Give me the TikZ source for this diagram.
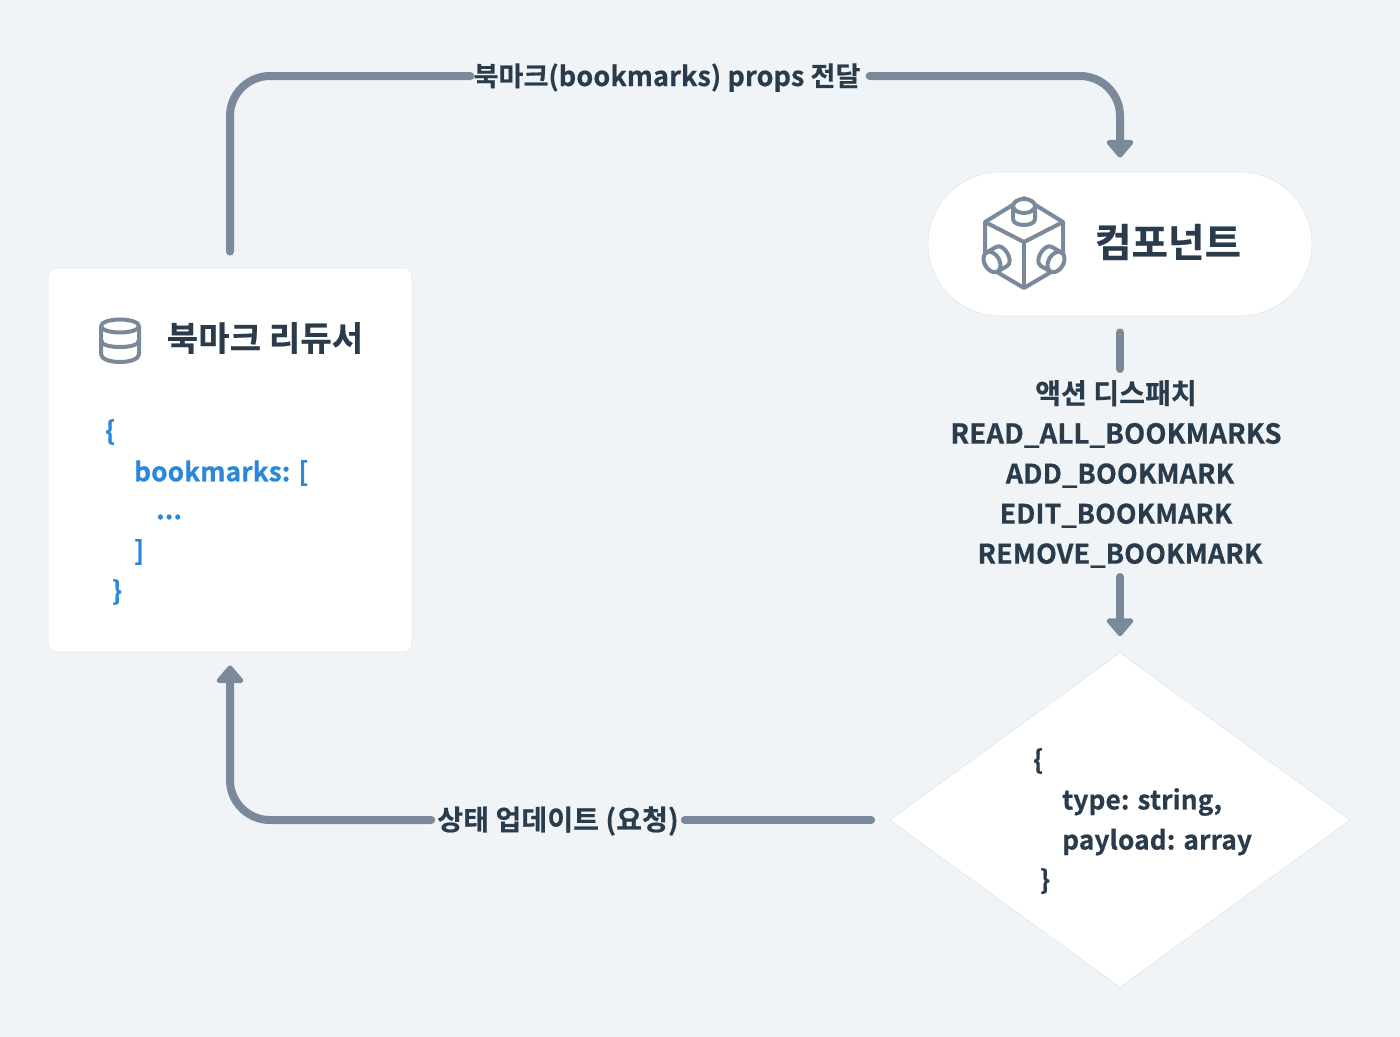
\documentclass[tikz,border=0pt]{standalone}
\usepackage{fontspec}
\setmainfont{Noto Sans CJK KR Bold}[BoldFont={Noto Sans CJK KR Bold},LetterSpace=0.5,FakeBold=0.6]
\usetikzlibrary{arrows.meta,shapes.geometric}
\definecolor{bgc}{HTML}{F0F4F7}
\definecolor{linec}{HTML}{7B8A9A}
\definecolor{textc}{HTML}{2A3B4B}
\definecolor{bluec}{HTML}{2B88D9}
\definecolor{edgec}{HTML}{E6EAEE}
\tikzset{
  flow/.style={draw=linec,line width=8pt,line cap=round,line join=round},
  tip/.style={-{Triangle[length=19pt,width=31pt,round]}},
  lbl/.style={text=textc,font=\fontsize{27}{40}\selectfont,inner sep=0pt},
  flowlbl/.style={lbl,text height=22pt,text depth=2pt},
  code/.style={lbl,anchor=west,font=\fontsize{26.2}{40}\selectfont},
  bluecode/.style={code,text=bluec},
  card/.style={fill=white,draw=edgec,line width=0.8pt},
  icon/.style={draw=linec,line width=4pt,line join=round}
}
\begin{document}
\begin{tikzpicture}[x=1pt,y=-1pt]
\useasboundingbox (0,0) rectangle (1400,1036);
\fill[bgc] (-3,-3) rectangle (1403,1039);
% shapes
\node[card,rounded corners=8pt,minimum width=364pt,minimum height=384pt,inner sep=0pt] (reducer) at (230,460) {};
\node[card,rounded corners=72pt,minimum width=384pt,minimum height=144pt,inner sep=0pt] (comp) at (1120,244) {};
\node[card,diamond,aspect=1.377,minimum width=461pt,minimum height=335pt,inner sep=0pt] (action) at (1120,820) {};
% titles
\node[lbl,font=\fontsize{34}{40}\selectfont,anchor=center] (reducertitle) at (265,338) {북마크 리듀서};
\node[lbl,font=\fontsize{39.5}{48}\selectfont,anchor=center] (comptitle) at (1168,242) {컴포넌트};
% labels
\node[flowlbl] (propslabel) at (667,76) {북마크(bookmarks) props 전달};
\node[flowlbl,font=\fontsize{28}{40}\selectfont] (updatelabel) at (558,820) {상태 업데이트 (요청)};
\node[lbl,align=center] (dispatch) at (1120,474) {{\fontsize{28}{40}\selectfont 액션 디스패치}\hbox to 8pt{}\\{\fontsize{27.5}{40}\selectfont READ\_ALL\_BOOKMARKS}\hbox to 8pt{}\\ADD\_BOOKMARK\\{\fontsize{26.8}{40}\selectfont EDIT\_BOOKMARK}\hbox to 8pt{}\\REMOVE\_BOOKMARK};
% code
\node[bluecode] (c1) at (105,432) {\{};
\node[bluecode] (c2) at (134,473) {bookmarks: [};
\node[bluecode] (c3) at (156,517) {...};
\node[bluecode] (c4) at (134,552) {]};
\node[bluecode] (c5) at (112,592) {\}};
\node[code] (d1) at (1033,761) {\{};
\node[code] (d2) at (1062,802) {type: string,};
\node[code] (d3) at (1062,842) {payload: array};
\node[code] (d4) at (1040,881) {\}};
% connectors
\coordinate (upbend) at (230,116);
\draw[flow] ([yshift=16pt]reducer.north) -- (upbend) arc[start angle=180,end angle=90,x radius=40pt,y radius=40pt] -- ([xshift=-3pt]propslabel.west);
\draw[flow,tip] ([xshift=9pt]propslabel.east) -- (1080,76) arc[start angle=90,end angle=0,x radius=40pt,y radius=40pt] -- ([yshift=14pt]comp.north);
\draw[flow] ([yshift=-16pt]comp.south) -- ([yshift=11pt]dispatch.north);
\draw[flow,tip] ([yshift=-9pt]dispatch.south) -- ([yshift=16pt]action.north);
\draw[flow] ([xshift=-18pt]action.west) -- ([xshift=6pt]updatelabel.east);
\draw[flow,tip] ([xshift=-6pt]updatelabel.west) -- (270,820) arc[start angle=270,end angle=180,x radius=40pt,y radius=40pt] -- ([yshift=-13pt]reducer.south);
% database icon
\begin{scope}[icon]
\draw (120,326) ellipse[x radius=19pt,y radius=6.5pt];
\draw (101,326) -- (101,354) .. controls (101,359) and (110,362) .. (120,362) .. controls (130,362) and (139,359) .. (139,354) -- (139,326);
\draw (101,340) .. controls (101,345) and (110,347) .. (120,347) .. controls (130,347) and (139,345) .. (139,340);
\end{scope}
% component icon
\begin{scope}[icon]
\draw (985,222) -- (1024,198) -- (1063,222) -- (1063,265) -- (1024,288) -- (985,265) -- cycle;
\draw (985,222) -- (1024,242) -- (1063,222);
\draw (1024,242) -- (1024,288);
\draw[fill=white] (1013,206) -- (1013,219) .. controls (1013,227) and (1035,227) .. (1035,219) -- (1035,206);
\draw[fill=white] (1024,206) ellipse[x radius=11pt,y radius=7pt];
\begin{scope}[shift={(992,262)},rotate=30]
\draw[fill=white] (0,-11) -- (11,-11) .. controls (20,-11) and (20,11) .. (11,11) -- (0,11);
\draw[fill=white] (0,0) ellipse[x radius=7.5pt,y radius=11pt];
\end{scope}
\begin{scope}[shift={(1056,262)},rotate=150]
\draw[fill=white] (0,-11) -- (11,-11) .. controls (20,-11) and (20,11) .. (11,11) -- (0,11);
\draw[fill=white] (0,0) ellipse[x radius=7.5pt,y radius=11pt];
\end{scope}
\end{scope}
\end{tikzpicture}
\end{document}
